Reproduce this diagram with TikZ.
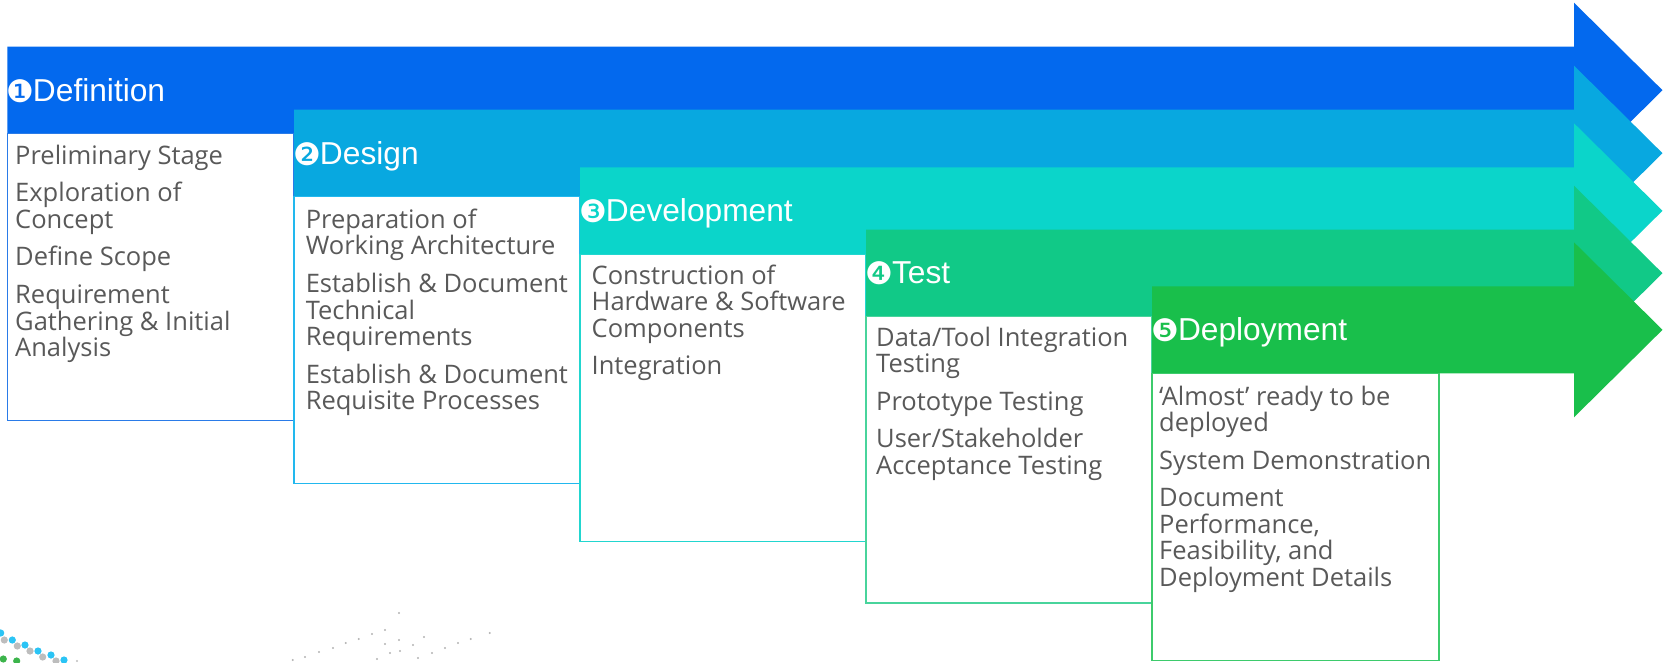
\documentclass[tikz,border=0pt]{standalone}
\usepackage{fontspec}
\setmainfont{Open Sans}
\newfontfamily\headfont{Liberation Sans}
\newfontfamily\dingfont{DejaVu Sans}

% phase fills
\definecolor{cDef}{HTML}{0369EE}
\definecolor{cDes}{HTML}{08A8E0}
\definecolor{cDev}{HTML}{0BD5CA}
\definecolor{cTst}{HTML}{11C987}
\definecolor{cDep}{HTML}{19BF4B}
% box outlines
\definecolor{bDef}{HTML}{2A7BE8}
\definecolor{bDes}{HTML}{22B8EE}
\definecolor{bDev}{HTML}{22D6CF}
\definecolor{bTst}{HTML}{48D49C}
\definecolor{bDep}{HTML}{3DCB6C}
\definecolor{bodygray}{HTML}{595959}
\definecolor{dotgray}{HTML}{BDBDBD}
\definecolor{dotblue}{HTML}{2BC4F5}
\definecolor{dotgreen}{HTML}{3CB44B}

% arrow: #1 left, #2 shaft top, #3 colour
\newcommand\phasearrow[3]{%
  \fill[#3] (#1,#2) -- (1574,#2) -- (1574,#2+43.5-87.5) -- (1662.5,#2+43.5)
    -- (1574,#2+43.5+87.5) -- (1574,#2+87) -- (#1,#2+87) -- cycle;}

\tikzset{
  phasehead/.style={anchor=base west, inner sep=0pt, text=white,
    font=\headfont\fontsize{31.7}{36}\selectfont},
  phasebody/.style={anchor=base west, inner sep=0pt, text=bodygray,
    font=\fontsize{25.5}{26.6}\selectfont},
  phasebox/.style={fill=white, draw=#1, line width=1.5pt},
}
\newcommand\num[1]{{\dingfont\fontsize{31}{31}\selectfont\kern-1.5pt\raisebox{-1pt}{#1}\kern-1.5pt}}
\newcommand\bodytext[1]{\parbox[t]{276pt}{\raggedright\parskip=10.9pt #1}}

\begin{document}
\begin{tikzpicture}[x=1pt,y=-1pt]
\useasboundingbox (0,0) rectangle (1665,662);

% 1 Definition
\phasearrow{7.4}{46.7}{cDef}
\draw[phasebox=bDef] (7.4,133.7) rectangle (294,420.7);
\node[phasehead] (hdef) at (8,101.2) {\num{❶}Definition};
\node[phasebody] (tdef) at (15,164.3) {\bodytext{Preliminary Stage\par
  Exploration of\\Concept\par
  Define Scope\par
  Requirement\\Gathering \& Initial\\Analysis}};

% 2 Design
\phasearrow{294}{109.7}{cDes}
\draw[phasebox=bDes] (294,196.7) rectangle (580,483.7);
\node[phasehead] (hdes) at (295,164.2) {\num{❷}Design};
\node[phasebody] (tdes) at (305.6,228.3) {\bodytext{Preparation of\\Working Architecture\par
  Establish \& Document\\Technical\\Requirements\par
  Establish \& Document\\Requisite Processes}};

% 3 Development
\phasearrow{580}{167.3}{cDev}
\draw[phasebox=bDev] (580,254.3) rectangle (866,541.3);
\node[phasehead] (hdev) at (581,221.8) {\num{❸}Development};
\node[phasebody] (tdev) at (591.5,284) {\bodytext{Construction of\\Hardware \& Software\\Components\par
  Integration}};

% 4 Test
\phasearrow{866}{229.7}{cTst}
\draw[phasebox=bTst] (866,316.7) rectangle (1152,603.2);
\node[phasehead] (htst) at (867,283.2) {\num{❹}Test};
\node[phasebody] (ttst) at (876,346) {\bodytext{Data/Tool Integration\\Testing\par
  Prototype Testing\par
  User/Stakeholder\\Acceptance Testing}};

% 5 Deployment
\phasearrow{1152}{286.3}{cDep}
\draw[phasebox=bDep] (1152,373.3) rectangle (1439,660.3);
\node[phasehead] (hdep) at (1153,340.8) {\num{❺}Deployment};
\node[phasebody] (tdep) at (1159,405) {\bodytext{‘Almost’ ready to be\\deployed\par
  System Demonstration\par
  Document\\Performance,\\Feasibility, and\\Deployment Details}};

% small scattered marks, lower left
\foreach \x/\y/\c in {0.7/633/dotblue, 4.3/640/dotgray, 12.3/640/dotblue,
    17.3/646/dotgray, 25/645/dotblue, 30/651/dotgray, 38/651/dotblue,
    42.7/657/dotgray, 51/655/dotblue, 56/661/dotgray, 64/660/dotblue,
    3.3/659/dotgreen, 16.7/661/dotgreen}
  \fill[\c] (\x,\y) circle (3.6);
\fill[dotgray] (77,661) circle (1.2);
\foreach \x/\y in {292.7/660, 305/657, 319/652, 333/648, 345.7/643, 358.7/639,
    372/634, 399/613, 385/630, 399/640, 385/644, 413/645, 424/637, 390/653,
    400/651, 377/659, 418/658, 432/653, 445/648, 458/643, 470.7/639, 489.7/633}
  \fill[gray!60] (\x,\y) circle (1.1);
\end{tikzpicture}
\end{document}
